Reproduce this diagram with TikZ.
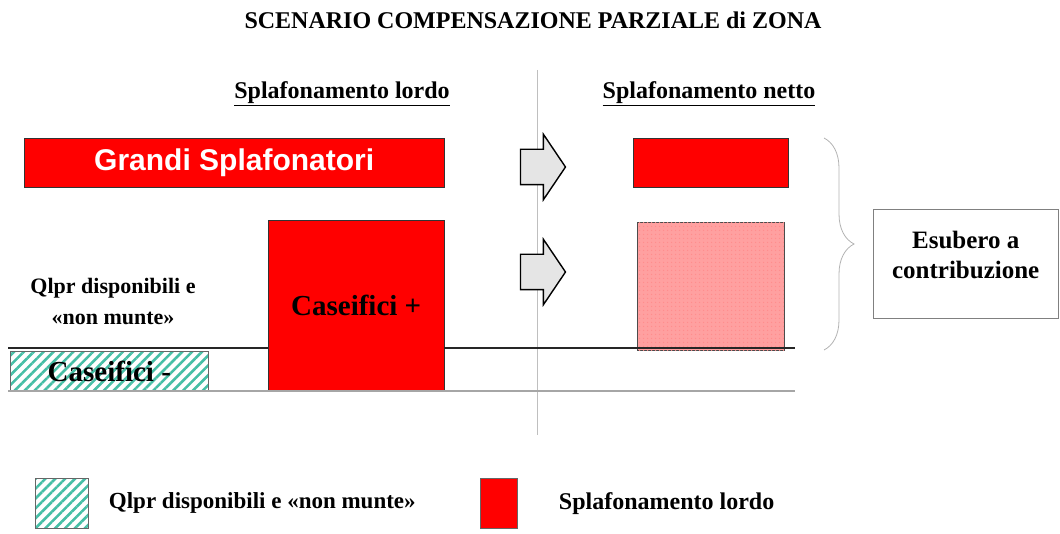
\documentclass[tikz,border=0pt]{standalone}
\usepackage{fontspec}
\setmainfont{Liberation Serif}
\setsansfont{Liberation Sans}
\usetikzlibrary{positioning, shapes.arrows, decorations.pathreplacing, patterns.meta}
\definecolor{rosso}{RGB}{255,0,0}
\definecolor{verdeacqua}{RGB}{70,190,165}
\definecolor{rosa}{RGB}{255,160,160}
\tikzset{
  blocco/.style={draw=black!80, fill=rosso, inner sep=0pt, anchor=north west},
  righe/.style={draw=black!60, inner sep=0pt, anchor=north west, pattern={Lines[angle=45,distance=7pt,line width=2.6pt]}, pattern color=verdeacqua},
  freccia/.style={draw, line width=1.4pt, fill=gray!20, single arrow, single arrow head extend=15pt, single arrow tip angle=112, minimum height=45pt, inner ysep=17pt, inner xsep=0pt},
  testo/.style={font=\bfseries\fontsize{24}{26}\selectfont, align=center}
}
\begin{document}
\begin{tikzpicture}[x=1pt,y=-1pt]
    \useasboundingbox (0,0) rectangle (1060,534);
    \node[font=\bfseries\fontsize{24}{26}\selectfont] (T) at (533,20) {SCENARIO COMPENSAZIONE PARZIALE di ZONA};
    \draw[gray!50, line width=0.8pt] (537,70) -- (537,435);
    \node[testo] (SL) at (342,94) {\underline{Splafonamento lordo}};
    \node[testo] (SN) at (709,94) {\underline{Splafonamento netto}};
    \node[blocco, minimum width=420, minimum height=49, font=\sffamily\bfseries\fontsize{30}{32}\selectfont, text=white] (G) at (24,138) {Grandi Splafonatori};
    \node[blocco, minimum width=176, minimum height=171, font=\bfseries\fontsize{29}{32}\selectfont] (CP) at (268,220) {Caseifici +};
    \node[righe, minimum width=198, minimum height=40, font=\bfseries\fontsize{29}{32}\selectfont] (CM) at (9,350) {Caseifici -};
    \node[testo, font=\bfseries\fontsize{22}{31}\selectfont] (Q) at (113,302) {Qlpr disponibili e\\«non munte»};
    \node[freccia] (A1) at (537,167) {};
    \node[freccia] (A2) at (537,272) {};
    \node[blocco, line width=1pt, minimum width=155, minimum height=49] (GN) at (633,138) {};
    \node[blocco, draw=black!70, fill=rosa, minimum width=147, minimum height=128, postaction={pattern={Dots[distance=4pt,radius=0.8pt]}, pattern color=red!45}] (CN) at (637,222) {};
    \draw[black!85, line width=1.3pt] (8,348) -- (CP.west |- 0,348);
    \draw[black!85, line width=1.3pt] (CP.east |- 0,348) -- (795,348);
    \draw[gray!70, line width=1.3pt] (8,391) -- (795,391);
    \draw[gray!60, line width=0.8pt, decorate, decoration={brace, amplitude=30pt, aspect=0.5}] (824,138) -- (824,350);
    \node[draw=gray, fill=white, minimum width=185, minimum height=109, inner sep=0pt, anchor=north west, testo, font=\bfseries\fontsize{25}{30}\selectfont] (E) at (873,209) {Esubero a\\contribuzione\\[-12pt]\mbox{}};
    \node[righe, minimum width=53, minimum height=50] (L1) at (35,478) {};
    \node[testo, right=17pt of L1, font=\bfseries\fontsize{23}{26}\selectfont] (L1t) {Qlpr disponibili e «non munte»};
    \node[blocco, draw=black!60, minimum width=37, minimum height=50] (L2) at (480,478) {};
    \node[testo, right=38pt of L2, font=\bfseries\fontsize{24}{26}\selectfont] (L2t) {Splafonamento lordo};
\end{tikzpicture}
\end{document}
